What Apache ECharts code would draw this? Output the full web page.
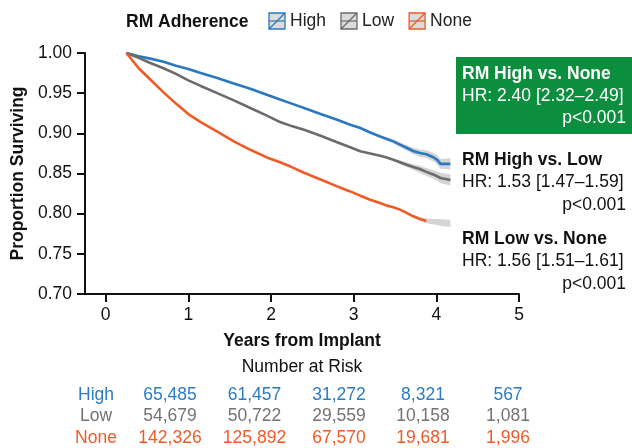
<!DOCTYPE html>
<html><head><meta charset="utf-8">
<script src="https://cdn.jsdelivr.net/npm/echarts@6/dist/echarts.min.js"></script>
<style>html,body{margin:0;padding:0;background:#fff}#c{width:632px;height:448px}</style>
</head><body><div id="c"></div>
<script>
// ---- data ----
const years = [0.25,0.4,0.54,0.7,0.85,1.0,1.15,1.35,1.55,1.75,1.95,2.11,2.25,2.40,2.60,2.80,2.95,3.08,3.20,3.32,3.40,3.48,3.56,3.64,3.72,3.80,3.88,3.97,4.02,4.05,4.17];
const highSurv = [1.0,0.996,0.993,0.989,0.984,0.980,0.975,0.969,0.962,0.9556,0.948,0.942,0.937,0.9315,0.924,0.917,0.911,0.9067,0.901,0.896,0.893,0.890,0.886,0.882,0.878,0.8755,0.874,0.870,0.866,0.862,0.862];
const lowSurv = [1.0,0.994,0.9876,0.981,0.974,0.966,0.959,0.950,0.941,0.9316,0.922,0.914,0.909,0.9045,0.897,0.889,0.883,0.8776,0.875,0.872,0.870,0.867,0.864,0.861,0.858,0.8556,0.852,0.8485,0.846,0.8444,0.842];
const noneYears = [0.25,0.4,0.54,0.7,0.85,1.0,1.15,1.35,1.55,1.75,1.95,2.11,2.25,2.40,2.60,2.80,2.95,3.08,3.20,3.32,3.40,3.48,3.56,3.64,3.72,3.80,3.88];
const noneSurv = [1.0,0.981,0.967,0.951,0.937,0.924,0.914,0.902,0.890,0.8795,0.870,0.864,0.858,0.851,0.8425,0.834,0.828,0.8224,0.8174,0.8133,0.810,0.808,0.805,0.801,0.7967,0.7935,0.791];

const highBandYears = [3.30,3.40,3.48,3.56,3.64,3.72,3.80,3.88,3.97,4.02,4.05,4.17];
const highBandLower = [0.8955,0.891,0.8875,0.883,0.8785,0.874,0.871,0.869,0.8645,0.860,0.856,0.855];
const highBandUpper = [0.8985,0.895,0.8925,0.889,0.8855,0.882,0.880,0.879,0.8755,0.872,0.868,0.869];
const lowBandYears = [3.48,3.56,3.64,3.72,3.80,3.88,3.97,4.05,4.17];
const lowBandLower = [0.866,0.8615,0.858,0.8545,0.851,0.847,0.843,0.838,0.835];
const lowBandUpper = [0.868,0.8665,0.864,0.8615,0.860,0.857,0.854,0.851,0.849];
const noneBandYears = [3.64,3.72,3.80,3.88,3.97,4.05,4.17];
const noneBandLower = [0.800,0.795,0.791,0.788,0.7865,0.785,0.7835];
const noneBandUpper = [0.802,0.7985,0.796,0.794,0.7935,0.793,0.7925];

const xTicks = [0,1,2,3,4,5];
const groups = ['High','Low','None'];
const riskHigh = [65485,61457,31272,8321,567];
const riskLow = [54679,50722,29559,10158,1081];
const riskNone = [142326,125892,67570,19681,1996];
const compTitles = ['RM High vs. None','RM High vs. Low','RM Low vs. None'];
const compHR = ['HR: 2.40 [2.32\u20132.49]','HR: 1.53 [1.47\u20131.59]','HR: 1.56 [1.51\u20131.61]'];
const compP = ['p<0.001','p<0.001','p<0.001'];

// ---- style ----
const FONT = "'Liberation Sans', Arial, Helvetica, sans-serif";
const FS = 17.5;
const colors = {High:'#2a78c2', Low:'#6b6b6b', None:'#f05a24'};
const textColors = {High:'#2b7cc4', Low:'#737373', None:'#f05a28'};
const bandFill = '#d5d5d5';
const boxGreen = '#0b8e3d';

function pairs(xs, ys){ return xs.map((x,i)=>[x,ys[i]]); }
function band(name, xs, lo, hi){
  return {
    type:'custom', name:name, silent:true, z:1, clip:false,
    data:[[xs[0], lo[0]]],
    renderItem:function(params, api){
      const pts=[];
      for(let i=0;i<xs.length;i++) pts.push(api.coord([xs[i],hi[i]]));
      for(let i=xs.length-1;i>=0;i--) pts.push(api.coord([xs[i],lo[i]]));
      return {type:'polygon', shape:{points:pts}, style:{fill:bandFill}};
    }
  };
}
const iconPath = 'path://M0,0L16,0L16,16L0,16Z M0,16L16,0';
function lineSeries(name, xs, ys){
  return {type:'line', name:name, data:pairs(xs,ys), showSymbol:false, symbol:iconPath,
    lineStyle:{color:colors[name], width:2.6}, itemStyle:{color:colors[name]},
    z:3, animation:false};
}

const chart = echarts.init(document.getElementById('c'), null, {renderer:'canvas'});

const graphics = [];
// comparison boxes
graphics.push({type:'rect', shape:{x:456, y:57, width:176, height:77}, style:{fill:boxGreen}, z:10});
const compY = [[74,96.5,118.5],[160,182.5,205],[239.5,261,284.5]];
for(let k=0;k<3;k++){
  const fill = k===0 ? '#ffffff' : '#111111';
  graphics.push({type:'text', z:11, style:{text:compTitles[k], x:462, y:compY[k][0], font:'bold '+FS+'px '+FONT, fill:fill, verticalAlign:'middle', align:'left'}});
  graphics.push({type:'text', z:11, style:{text:compHR[k], x:462, y:compY[k][1], font:FS+'px '+FONT, fill:fill, verticalAlign:'middle', align:'left'}});
  graphics.push({type:'text', z:11, style:{text:compP[k], x:626, y:compY[k][2], font:FS+'px '+FONT, fill:fill, verticalAlign:'middle', align:'right'}});
}
// number at risk
graphics.push({type:'text', style:{text:'Number at Risk', x:302, y:367, font:FS+'px '+FONT, fill:'#111', align:'center', verticalAlign:'middle'}});
const riskRows = {High:riskHigh, Low:riskLow, None:riskNone};
const rowY = [395, 416, 438];
const colX = [170, 254.5, 339, 423, 508];
groups.forEach((g,r)=>{
  graphics.push({type:'text', style:{text:g, x:96, y:rowY[r], font:FS+'px '+FONT, fill:textColors[g], align:'center', verticalAlign:'middle'}});
  riskRows[g].forEach((v,c)=>{
    graphics.push({type:'text', style:{text:v.toLocaleString('en-US'), x:colX[c], y:rowY[r], font:FS+'px '+FONT, fill:textColors[g], align:'center', verticalAlign:'middle'}});
  });
});

chart.setOption({
  animation:false,
  title:{text:'RM Adherence', left:126, top:13, padding:0, textStyle:{fontFamily:FONT, fontSize:FS, fontWeight:'bold', color:'#111'}},
  legend:{
    left:268, top:12, itemWidth:16, itemHeight:20, itemGap:14, padding:0,
    textStyle:{fontFamily:FONT, fontSize:FS, color:'#222'},
    data: groups.map(g=>({name:g, itemStyle:{color:'rgba(190,190,190,0.55)', borderColor:colors[g], borderWidth:1.3}}))
  },
  grid:{left:85, right:113, top:53, bottom:154, containLabel:false},
  xAxis:{
    type:'value', min:-0.25, max:5,
    name:'Years from Implant', nameLocation:'middle', nameGap:38,
    nameTextStyle:{fontFamily:FONT, fontSize:FS, fontWeight:'bold', color:'#111'},
    axisLine:{show:true, onZero:false, lineStyle:{color:'#111', width:2}},
    axisTick:{show:true, length:8, lineStyle:{color:'#111', width:2}, customValues:xTicks},
    axisLabel:{fontFamily:FONT, fontSize:FS, color:'#111', margin:12, customValues:xTicks},
    splitLine:{show:false}
  },
  yAxis:{
    type:'value', min:0.70, max:1.00, interval:0.05,
    name:'Proportion Surviving', nameLocation:'middle', nameGap:58, nameRotate:90,
    nameTextStyle:{fontFamily:FONT, fontSize:FS, fontWeight:'bold', color:'#111'},
    axisLine:{show:true, onZero:false, lineStyle:{color:'#111', width:2}},
    axisTick:{show:true, length:8, lineStyle:{color:'#111', width:2}},
    axisLabel:{fontFamily:FONT, fontSize:FS, color:'#111', margin:13, formatter:v=>v.toFixed(2)},
    splitLine:{show:false}
  },
  series:[
    band('High CI', highBandYears, highBandLower, highBandUpper),
    band('Low CI', lowBandYears, lowBandLower, lowBandUpper),
    band('None CI', noneBandYears, noneBandLower, noneBandUpper),
    lineSeries('High', years, highSurv),
    lineSeries('Low', years, lowSurv),
    lineSeries('None', noneYears, noneSurv)
  ],
  graphic:graphics
});
</script>
</body></html>
